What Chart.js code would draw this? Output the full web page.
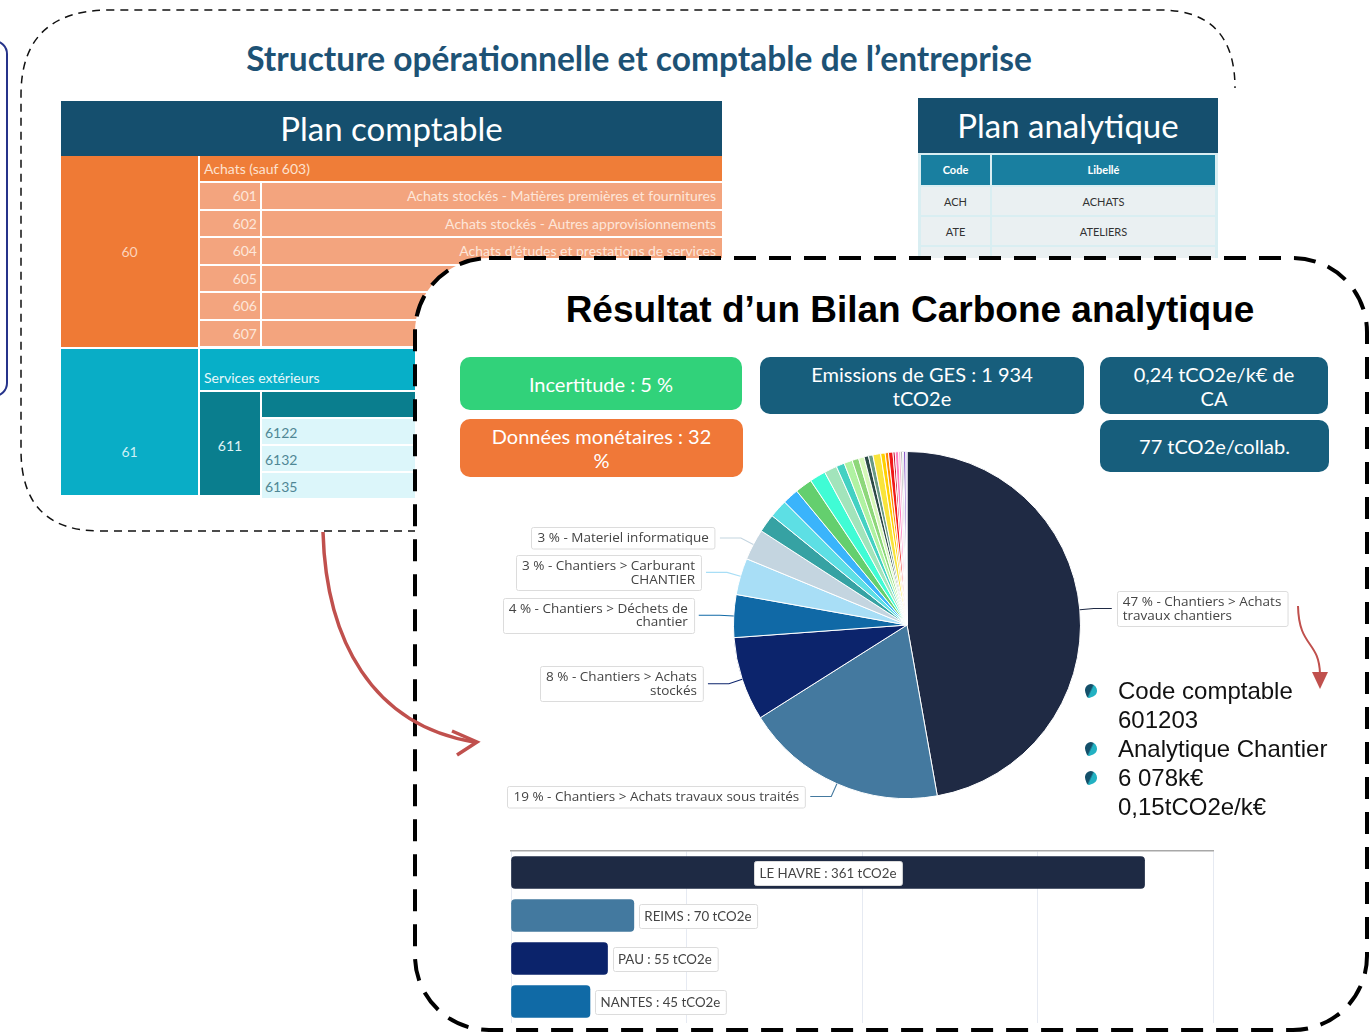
<!DOCTYPE html>
<html lang="fr">
<head>
<meta charset="utf-8">
<title>Bilan Carbone analytique</title>
<script src="https://cdn.jsdelivr.net/npm/chart.js@4.4.1/dist/chart.umd.min.js"></script>
<style>
html, body { margin: 0; padding: 0; background: #fff; }
body { width: 1371px; height: 1036px; position: relative; overflow: hidden; font-family: Lato, sans-serif; }
.abs { position: absolute; box-sizing: border-box; }
.cell { position: absolute; box-sizing: border-box; font-size: 14px; white-space: nowrap; overflow: hidden; }
.kpi { position: absolute; box-sizing: border-box; border-radius: 10px; color: #fff; font-size: 20px; line-height: 24px;
       display: flex; align-items: center; justify-content: center; text-align: center; }
.bullets { position: absolute; left: 1118px; top: 676px; font-family: "Liberation Sans", Arial, sans-serif; font-size: 24px; line-height: 29px; color: #111; z-index: 3; }
.puce { position: absolute; left: -33px; width: 12px; height: 13px; border-radius: 50% 50% 50% 20%;
        background: linear-gradient(135deg, #14506a 45%, #22b1c2 55%); transform: rotate(-20deg); }
</style>
</head>
<body>

<!-- cadre bleu a gauche -->
<div class="abs" style="left:-200px; top:40px; width:208px; height:357px; border:2px solid #26338a; border-radius:14px;"></div>

<!-- titre haut -->
<div class="abs" style="left:100px; top:38px; width:1078px; text-align:center; font-weight:bold; font-size:33.5px; color:#1d5275; z-index:1;">Structure opérationnelle et comptable de l’entreprise</div>

<!-- plan comptable -->
<div id="plan_comptable"></div>
<!-- plan analytique -->
<div id="plan_analytique"></div>

<svg class="abs" style="left:0; top:0; z-index:1;" width="1371" height="1036">
  <path d="M 430 531 H 100 Q 21 531 21 450 V 95 Q 21 10 110 10 H 1160 Q 1235 10 1235 88"
        fill="none" stroke="#111" stroke-width="1.5" stroke-dasharray="8 6"/>
</svg>

<svg class="abs" style="left:0; top:0; z-index:2;" width="1371" height="1036">
  <rect x="415" y="258" width="952" height="772" rx="74" ry="74" fill="#fff"
        stroke="#000" stroke-width="4" stroke-dasharray="22 13"/>
</svg>

<!-- contenu du bilan -->
<div class="abs" style="left:510px; top:288px; width:800px; text-align:center; font-family:'Liberation Sans', Arial, sans-serif; font-weight:bold; font-size:37px; line-height:44px; color:#000; z-index:3;">Résultat d’un Bilan Carbone analytique</div>

<div class="kpi" style="left:460px; top:357px; width:282px; height:53px; background:#31d27a; z-index:3;">Incertitude : 5 %</div>
<div class="kpi" style="left:460px; top:419px; width:283px; height:58px; background:#f07838; z-index:3;">Données monétaires : 32<br>%</div>
<div class="kpi" style="left:760px; top:357px; width:324px; height:57px; background:#175e7c; z-index:3;">Emissions de GES : 1 934<br>tCO2e</div>
<div class="kpi" style="left:1100px; top:357px; width:228px; height:57px; background:#175e7c; z-index:3;">0,24 tCO2e/k€ de<br>CA</div>
<div class="kpi" style="left:1100px; top:420px; width:229px; height:52px; background:#175e7c; z-index:3;">77 tCO2e/collab.</div>

<canvas id="pie_postes" class="abs" style="left:490px; top:440px; z-index:3;" width="820" height="380"></canvas>

<div class="bullets">
  <div style="position:relative;"><span class="puce" style="top:8px;"></span>Code comptable</div>
  <div>601203</div>
  <div style="position:relative;"><span class="puce" style="top:8px;"></span>Analytique Chantier</div>
  <div style="position:relative;"><span class="puce" style="top:8px;"></span>6 078k€</div>
  <div>0,15tCO2e/k€</div>
</div>

<canvas id="bars_sites" class="abs" style="left:500px; top:835px; z-index:3;" width="730" height="195"></canvas>

<!-- fleches rouges -->
<svg class="abs" style="left:0; top:0; z-index:4;" width="1371" height="1036">
  <path d="M 323 532 C 326 640 372 725 474 742" fill="none" stroke="#c0504d" stroke-width="3.5"/>
  <path d="M 452 731 L 477 742 L 457 755" fill="none" stroke="#c0504d" stroke-width="3.5" stroke-linejoin="miter"/>
  <path d="M 1298 606 C 1299 648 1319 640 1320 674" fill="none" stroke="#c0504d" stroke-width="2"/>
  <path d="M 1312 672 L 1328 672 L 1320 689 Z" fill="#c0504d"/>
</svg>

<script>
// --- tables de gauche / droite ---
const comptesAchats = ['601', '602', '604', '605', '606', '607'];
const libellesAchats = [
    'Achats stockés - Matières premières et fournitures',
    'Achats stockés - Autres approvisionnements',
    'Achats d’études et prestations de services',
    'Achats de matériel, équipements et travaux',
    'Achats non stockés de matières et fournitures',
    'Achats de marchandises'
];
const comptesServices = ['6122', '6132', '6135'];
const codesAnalytiques = ['ACH', 'ATE', 'CHA'];
const libellesAnalytiques = ['ACHATS', 'ATELIERS', 'CHANTIERS'];

// --- camembert : postes d'emissions (tCO2e) ---
const posteLabels = [
    'Chantiers > Achats travaux chantiers',
    'Chantiers > Achats travaux sous traités',
    'Chantiers > Achats stockés',
    'Chantiers > Déchets de chantier',
    'Chantiers > Carburant CHANTIER',
    'Materiel informatique',
    'Ateliers > Energie', 'Ateliers > Achats', 'Déplacements', 'Fret amont',
    'Immobilisations', 'Sièges > Energie', 'Sièges > Achats', 'Fret aval',
    'Trajets domicile-travail', 'Déchets bureaux', 'Fluides frigorigènes', 'Eau',
    'Véhicules', 'Restauration', 'Papier', 'Fournitures', 'Télécoms',
    'Hébergement', 'Formation', 'Emballages', 'Nettoyage', 'Divers', 'Autres'
];
const posteEmissions = [913, 364, 151, 77, 66, 56,
    33, 33, 29, 31, 29, 23, 15, 15, 12, 10, 8, 8, 14, 8, 6, 8, 4, 6, 4, 3, 2, 4, 2];
const posteColors = ['#1f2a44', '#44799f', '#0c246c', '#1069a6', '#a8def6', '#c4d5e0',
    '#36a2a3', '#5ddfe4', '#3ab4fb', '#64cf6e', '#40fcd5', '#a2e4bb', '#43d1c2', '#b0f2a2',
    '#8ed77a', '#d6f7b8', '#2c4a46', '#6a9a84', '#f8e43c', '#ffd000', '#ff8a00', '#f01818',
    '#c81e3c', '#ff7fbf', '#f5b0d0', '#888888', '#333333', '#7a3fc0', '#b0a0e0'];

// --- barres : emissions par site (tCO2e) ---
const sites = ['LE HAVRE', 'REIMS', 'PAU', 'NANTES'];
const siteEmissions = [361, 70, 55, 45];
const siteColors = ['#1e2a44', '#43799f', '#0b236b', '#106aa6'];

function cell(parent, left, top, width, height, bg, text, css) {
    let d = document.createElement('div');
    d.className = 'cell';
    d.style.cssText = `left:${left}px;top:${top}px;width:${width}px;height:${height}px;background:${bg};` + (css || '');
    d.textContent = text || '';
    parent.appendChild(d);
    return d;
}

function planComptable() {
    let p = document.querySelector('#plan_comptable');
    cell(p, 61, 101, 661, 55, '#154f6e', 'Plan comptable',
        'color:#fff;font-size:33px;line-height:55px;text-align:center;');
    cell(p, 61, 156, 137, 191, '#ef7a35', '60', 'color:#fcd3bb;line-height:191px;text-align:center;');
    cell(p, 200, 156, 522, 25, '#ef7d38', 'Achats (sauf 603)', 'color:#fde2d0;line-height:25px;padding-left:4px;');
    comptesAchats.forEach((code, i) => {
        let top = 183 + i * 27.5;
        cell(p, 200, top, 60, 25.5, '#f3a47e', code, 'color:#fde6d9;line-height:26px;text-align:right;padding-right:3px;');
        cell(p, 262, top, 460, 25.5, '#f3a47e', libellesAchats[i], 'color:#fde6d9;line-height:26px;text-align:right;padding-right:6px;');
    });
    cell(p, 61, 349, 137, 146, '#09adc6', '61', 'color:#cdf1f7;line-height:206px;text-align:center;');
    cell(p, 200, 349, 522, 41, '#07afc8', 'Services extérieurs', 'color:#e6f8fb;line-height:58px;padding-left:4px;');
    cell(p, 200, 392, 60, 103, '#0a7e8e', '611', 'color:#e0f4f7;line-height:108px;text-align:center;');
    cell(p, 262, 392, 460, 25, '#0a7e8e', '');
    comptesServices.forEach((code, i) => {
        cell(p, 262, 419 + i * 27, 460, 25, '#dcf6fa', code, 'color:#4f8795;line-height:27px;padding-left:3px;');
    });
}

function planAnalytique() {
    let p = document.querySelector('#plan_analytique');
    cell(p, 918, 98, 300, 55, '#154f6e', 'Plan analytique',
        'color:#fff;font-size:33px;line-height:55px;text-align:center;');
    cell(p, 918, 153, 300, 125, '#d9eef2', '');
    cell(p, 921, 155, 69, 30, '#197fa0', 'Code', 'color:#fff;font-size:11px;font-weight:bold;line-height:30px;text-align:center;');
    cell(p, 992, 155, 223, 30, '#197fa0', 'Libellé', 'color:#fff;font-size:11px;font-weight:bold;line-height:30px;text-align:center;');
    codesAnalytiques.forEach((code, i) => {
        let top = 187 + i * 30;
        cell(p, 921, top, 69, 28, '#eaf0f2', code, 'color:#333;font-size:11px;line-height:30px;text-align:center;');
        cell(p, 992, top, 223, 28, '#eaf0f2', libellesAnalytiques[i], 'color:#333;font-size:11px;line-height:30px;text-align:center;');
    });
}

planComptable();
planAnalytique();

function wrapText(ctx, text, maxWidth) {
    let words = text.split(' ');
    let lines = [];
    let line = '';
    words.forEach((w) => {
        let test = line ? line + ' ' + w : w;
        if (line && ctx.measureText(test).width > maxWidth) {
            lines.push(line);
            line = w;
        } else {
            line = test;
        }
    });
    if (line) lines.push(line);
    return lines;
}

// etiquettes exterieures du camembert
const outLabels = {
    id: 'outLabels',
    afterDatasetsDraw(chart, args, opts) {
        let ctx = chart.ctx;
        let meta = chart.getDatasetMeta(0);
        let data = chart.data.datasets[0].data;
        let total = data.reduce((a, b) => a + b, 0);
        ctx.save();
        ctx.font = '13.5px "Open Sans"';
        meta.data.forEach((arc, i) => {
            let pct = data[i] / total * 100;
            if (pct < opts.minPct) return;
            let mid = (arc.startAngle + arc.endAngle) / 2;
            let cos = Math.cos(mid), sin = Math.sin(mid);
            let r = arc.outerRadius;
            let ax = arc.x + cos * r, ay = arc.y + sin * r;
            let ex = arc.x + cos * (r + 14), ey = arc.y + sin * (r + 14);
            let right = cos >= 0;
            let hx = ex + (right ? 18 : -21);
            ctx.strokeStyle = posteColors[i];
            ctx.lineWidth = 1.1;
            ctx.beginPath();
            ctx.moveTo(ax, ay);
            ctx.lineTo(ex, ey);
            ctx.lineTo(hx, ey);
            ctx.stroke();

            let text = Math.round(pct) + ' % - ' + chart.data.labels[i];
            let maxW = Math.abs(cos) < 0.5 ? 330 : 192;
            let lines = wrapText(ctx, text, maxW);
            let lh = 13.5;
            let w = Math.max(...lines.map(l => ctx.measureText(l).width)) + 12;
            let h = lines.length * lh + 8;
            let bx = right ? hx + 5 : hx - 5 - w;
            let by = ey - h / 2;
            ctx.fillStyle = '#fff';
            ctx.strokeStyle = '#dcdcdc';
            ctx.lineWidth = 1;
            ctx.beginPath();
            ctx.roundRect(Math.round(bx) + 0.5, Math.round(by) + 0.5, w, h, 2);
            ctx.fill();
            ctx.stroke();
            ctx.fillStyle = '#444';
            ctx.textBaseline = 'middle';
            ctx.textAlign = right ? 'left' : 'right';
            let tx = right ? bx + 6 : bx + w - 6;
            lines.forEach((l, k) => ctx.fillText(l, tx, by + 4.5 + lh * k + lh / 2));
        });
        ctx.restore();
    }
};

// etiquettes des barres
const barLabels = {
    id: 'barLabels',
    afterDatasetsDraw(chart) {
        let ctx = chart.ctx;
        let meta = chart.getDatasetMeta(0);
        let data = chart.data.datasets[0].data;
        ctx.save();
        ctx.font = '13.3px Lato';
        meta.data.forEach((bar, i) => {
            let text = chart.data.labels[i] + ' : ' + data[i] + ' tCO2e';
            let w = ctx.measureText(text).width + 11;
            let h = 24;
            let len = bar.x - bar.base;
            let bx = (w + 20 < len) ? bar.base + len / 2 - w / 2 : bar.x + 5;
            let by = bar.y - h / 2;
            ctx.fillStyle = '#fff';
            ctx.strokeStyle = '#dcdcdc';
            ctx.lineWidth = 1;
            ctx.beginPath();
            ctx.roundRect(Math.round(bx) + 0.5, Math.round(by) + 0.5, w, h, 2);
            ctx.fill();
            ctx.stroke();
            ctx.fillStyle = '#444';
            ctx.textBaseline = 'middle';
            ctx.textAlign = 'left';
            ctx.fillText(text, bx + 5.5, bar.y + 1);
        });
        ctx.restore();
    }
};

new Chart(document.querySelector('#pie_postes'), {
    type: 'pie',
    data: {
        labels: posteLabels,
        datasets: [{
            data: posteEmissions,
            backgroundColor: posteColors,
            borderColor: '#ffffff',
            borderWidth: 1
        }]
    },
    options: {
        responsive: false,
        animation: false,
        layout: { padding: { left: 243, right: 229, top: 11, bottom: 21 } },
        plugins: {
            legend: { display: false },
            tooltip: { enabled: false },
            outLabels: { minPct: 2.5 }
        }
    },
    plugins: [outLabels]
});

new Chart(document.querySelector('#bars_sites'), {
    type: 'bar',
    data: {
        labels: sites,
        datasets: [{
            data: siteEmissions,
            backgroundColor: siteColors,
            borderRadius: 4,
            borderSkipped: false,
            barThickness: 32
        }]
    },
    options: {
        indexAxis: 'y',
        responsive: false,
        animation: false,
        layout: { padding: { left: 3, right: 17, top: 16, bottom: 7 } },
        plugins: {
            legend: { display: false },
            tooltip: { enabled: false }
        },
        scales: {
            x: {
                position: 'top',
                min: 0,
                max: 400,
                ticks: { display: false, stepSize: 100 },
                grid: { color: '#e6eaf2', drawTicks: false },
                border: { color: '#a8a8a8', width: 1.5 }
            },
            y: {
                ticks: { display: false },
                grid: { display: false },
                border: { display: false }
            }
        }
    },
    plugins: [barLabels]
});
</script>
</body>
</html>
